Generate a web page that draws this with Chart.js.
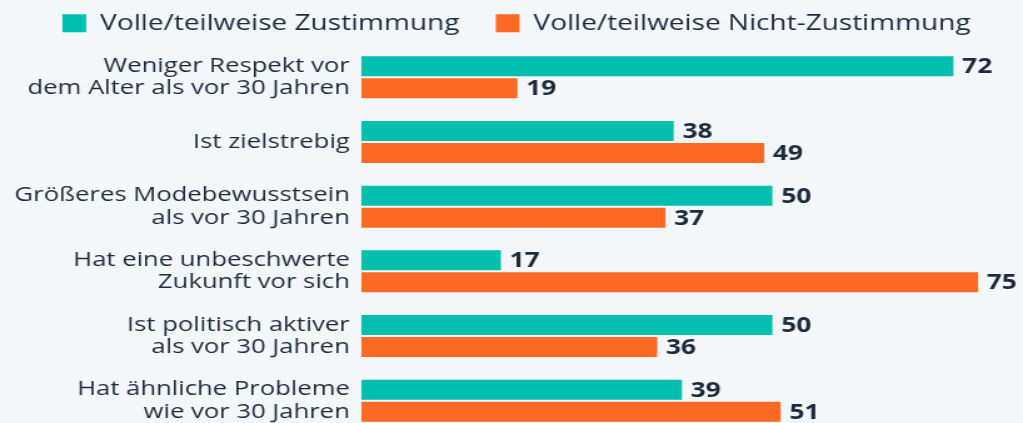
<!DOCTYPE html>
<html>
<head>
<meta charset="utf-8">
<script src="https://cdn.jsdelivr.net/npm/chart.js@4"></script>
<style>
    html, body { margin: 0; padding: 0; background: #f4f7fa; overflow: hidden; }
    /* the original graphic is horizontally stretched, so draw narrow and stretch */
    #wrap { width: 818px; height: 423px; transform: scaleX(1.2506); transform-origin: 0 0; }
</style>
</head>
<body>
<div id="wrap"><canvas id="umfrage" width="818" height="423"></canvas></div>
<script>
let kategorien = [
    ["Weniger Respekt vor", "dem Alter als vor 30 Jahren"],
    "Ist zielstrebig",
    ["Größeres Modebewusstsein", "als vor 30 Jahren"],
    ["Hat eine unbeschwerte", "Zukunft vor sich"],
    ["Ist politisch aktiver", "als vor 30 Jahren"],
    ["Hat ähnliche Probleme", "wie vor 30 Jahren"]
];
let zustimmung = [72, 38, 50, 17, 50, 39];
let nichtZustimmung = [19, 49, 37, 75, 36, 51];
let serienNamen = ["Volle/teilweise Zustimmung", "Volle/teilweise Nicht-Zustimmung"];

const textColor = '#1d2a3b';

// the original is cropped at the bottom: let the plot run a bit past the canvas
const cropArea = {
    id: 'cropArea',
    afterLayout(chart) {
        const y = chart.scales.y;
        chart.chartArea.top = 45;
        chart.chartArea.bottom = 433;
        chart.chartArea.height = 388;
        y.top = 45;
        y.bottom = 433;
        y.height = 388;
        y.configure();
    }
};

// value labels at the end of each bar
const valueLabels = {
    id: 'valueLabels',
    afterDatasetsDraw(chart) {
        const ctx = chart.ctx;
        ctx.save();
        ctx.font = 'bold 21px "Open Sans"';
        ctx.fillStyle = textColor;
        ctx.textAlign = 'left';
        ctx.textBaseline = 'middle';
        chart.data.datasets.forEach((ds, i) => {
            chart.getDatasetMeta(i).data.forEach((bar, j) => {
                ctx.fillText(ds.data[j], bar.x + 7, bar.y + 1);
            });
        });
        ctx.restore();
    }
};

let c1 = new Chart(
    document.getElementById('umfrage'),
    {
        type: 'bar',
        data: {
            labels: kategorien,
            datasets: [
                {
                    label: serienNamen[0],
                    data: zustimmung,
                    backgroundColor: '#00bfae',
                    barPercentage: 0.91,
                    categoryPercentage: 0.68
                },
                {
                    label: serienNamen[1],
                    data: nichtZustimmung,
                    backgroundColor: '#fe6a24',
                    barPercentage: 0.91,
                    categoryPercentage: 0.68
                }
            ]
        },
        options: {
            indexAxis: 'y',
            responsive: false,
            animation: false,
            layout: {
                padding: { top: -17, bottom: 0, left: 11, right: 3 }
            },
            scales: {
                x: {
                    display: false,
                    min: 0,
                    max: 80
                },
                y: {
                    grid: { display: false, drawTicks: false },
                    border: { display: false },
                    ticks: {
                        padding: 9,
                        color: textColor,
                        font: { family: '"Open Sans"', size: 20.5, lineHeight: 1.1 }
                    },
                    afterFit: function (scale) {
                        scale.width = 277.7;
                        scale.paddingTop = 0;
                        scale.paddingBottom = 0;
                    }
                }
            },
            plugins: {
                legend: {
                    position: 'top',
                    labels: {
                        boxWidth: 19,
                        boxHeight: 18,
                        padding: 29,
                        color: textColor,
                        font: { family: '"Open Sans"', size: 22.4 }
                    }
                },
                tooltip: { enabled: false }
            }
        },
        plugins: [cropArea, valueLabels]
    }
);
</script>
</body>
</html>
